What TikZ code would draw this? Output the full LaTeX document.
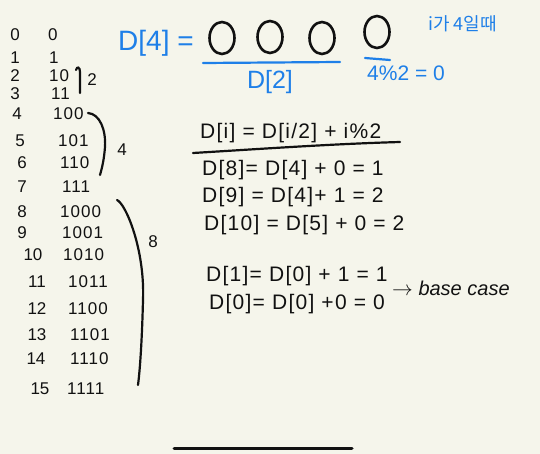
\documentclass[tikz,border=0pt]{standalone}
\usepackage{fontspec}
\usetikzlibrary{shapes.geometric}
\setmainfont{Liberation Sans}
\newfontfamily\krfont{Noto Sans CJK KR}
\newfontfamily\spacedfont[LetterSpace=6]{Liberation Sans}
\definecolor{paper}{HTML}{F5F5EB}
\definecolor{ink}{HTML}{111111}
\definecolor{pen}{HTML}{1E7FE8}
\begin{document}
\begin{tikzpicture}[x=1pt,y=-1pt,
  num/.style={font=\fontsize{17}{17}\selectfont, text=ink, inner sep=0pt},
  bin/.style={font=\spacedfont\fontsize{17}{17}\selectfont, text=ink, inner sep=0pt, anchor=west},
  eq/.style={font=\spacedfont\fontsize{21}{21}\selectfont, text=ink, inner sep=0pt, anchor=west},
  blue/.style={text=pen, inner sep=0pt},
  stroke/.style={draw=ink, line width=2.2pt, line cap=round},
  bstroke/.style={draw=pen, line width=2.2pt, line cap=round},
  bigo/.style={draw=ink, line width=2.6pt, ellipse, minimum width=25pt, minimum height=32pt, inner sep=0pt}
]
\fill[paper] (0,0) rectangle (540,454);
\useasboundingbox (0,0) rectangle (540,454);

% decimal column
\node[num] (d0) at (15,35) {0};
\node[num] (d1) at (15,58) {1};
\node[num] (d2) at (15,76) {2};
\node[num] (d3) at (15,94) {3};
\node[num] (d4) at (17,114) {4};
\node[num] (d5) at (20,141) {5};
\node[num] (d6) at (22,163) {6};
\node[num] (d7) at (22,187) {7};
\node[num] (d8) at (22,212) {8};
\node[num] (d9) at (22,233) {9};
\node[num] (d10) at (33,255) {10};
\node[num] (d11) at (37,282) {11};
\node[num] (d12) at (37,309) {12};
\node[num] (d13) at (37,335) {13};
\node[num] (d14) at (36,359) {14};
\node[num] (d15) at (40,389) {15};

% binary column
\node[bin] (b0) at (48,35) {0};
\node[bin] (b1) at (49,58) {1};
\node[bin] (b2) at (49,76) {10};
\node[bin] (b3) at (51,94) {11};
\node[bin] (b4) at (53,114) {100};
\node[bin] (b5) at (58,141) {101};
\node[bin] (b6) at (60,163) {110};
\node[bin] (b7) at (62,187) {111};
\node[bin] (b8) at (60,212) {1000};
\node[bin] (b9) at (62,233) {1001};
\node[bin] (b10) at (63,255) {1010};
\node[bin] (b11) at (68,282) {1011};
\node[bin] (b12) at (68,309) {1100};
\node[bin] (b13) at (70,335) {1101};
\node[bin] (b14) at (70,359) {1110};
\node[bin] (b15) at (67,389) {1111};

% brackets
\draw[stroke] (76,70) .. controls (77,66) and (80,67) .. (80,72) -- (80,93);
\node[num] (l2) at (92,80) {2};
\draw[stroke] (88,113) .. controls (100,114) and (106,130) .. (105,147) .. controls (104,160) and (102,168) .. (100,175);
\node[num] (l4) at (122,150) {4};
\draw[stroke] (117,200) .. controls (126,204) and (145,250) .. (143,300) .. controls (142,340) and (140,370) .. (138,385);
\node[num] (l8) at (153,242) {8};

% top blue part
\node[blue, anchor=west, font=\fontsize{28}{28}\selectfont] (d4eq) at (118,43) {D[4] =};
\node[bigo] (o1) at (222,38) {};
\node[bigo] (o2) at (270,37) {};
\node[bigo] (o3) at (322,38) {};
\node[bigo] (o4) at (377,32) {};
\coordinate (u1) at (203,63);
\coordinate (u2) at (340,62);
\draw[bstroke] (u1) -- (u2);
\node[blue, font=\fontsize{25}{25}\selectfont] (d2lab) at (270,82) {D[2]};
\coordinate (v1) at (365,58);
\coordinate (v2) at (390,60);
\draw[bstroke] (v1) -- (v2);
\node[blue, anchor=west, font=\fontsize{21}{21}\selectfont] (mod) at (367,73) {4\%2 = 0};
\node[blue, anchor=west, font=\krfont\fontsize{18}{18}\selectfont] (kr) at (428,24) {i가 4일때};

% recurrence
\node[eq] (rec) at (200,133) {D[i] = D[i/2] + i\%2};
\coordinate (h1) at (193,153);
\coordinate (h2) at (400,142);
\draw[stroke] (h1) .. controls (260,149) and (330,144) .. (h2);
\node[eq] (e8) at (202,170) {D[8]= D[4] + 0 = 1};
\node[eq] (e9) at (202,197) {D[9] = D[4]+ 1 = 2};
\node[eq] (e10) at (204,225) {D[10] = D[5] + 0 = 2};
\node[eq] (e1) at (206,276) {D[1]= D[0] + 1 = 1};
\node[eq] (e0) at (209,304) {D[0]= D[0] +0 = 0};
\node[eq, font=\fontsize{20}{20}\selectfont\itshape] (bc) at (392,288) {$\rightarrow$ base case};

% home indicator
\coordinate (hb1) at (174,448);
\coordinate (hb2) at (352,448);
\draw[draw=ink, line width=3pt, line cap=round] (hb1) -- (hb2);
\end{tikzpicture}
\end{document}
